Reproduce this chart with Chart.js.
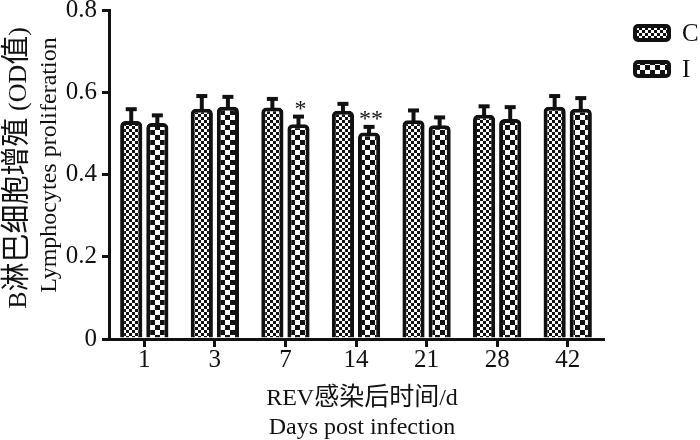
<!DOCTYPE html>
<html>
<head>
<meta charset="utf-8">
<script src="https://cdn.jsdelivr.net/npm/chart.js@4.4.1/dist/chart.umd.min.js"></script>
<style>
  html, body { margin: 0; padding: 0; background: #fff; }
  #wrap { width: 700px; height: 440px; position: relative; }
</style>
</head>
<body>
<div id="wrap"><canvas id="c" width="700" height="440"></canvas></div>
<script>
// ---- data ----
const categories = ['1', '3', '7', '14', '21', '28', '42'];
const seriesNames = ['C', 'I'];
const valuesC = [0.530, 0.560, 0.563, 0.555, 0.532, 0.545, 0.565];
const errorsC = [0.030, 0.032, 0.022, 0.018, 0.025, 0.022, 0.027];
const valuesI = [0.525, 0.565, 0.522, 0.502, 0.520, 0.535, 0.560];
const errorsI = [0.020, 0.025, 0.020, 0.015, 0.020, 0.030, 0.027];
const marksI = ['', '', '*', '**', '', '', ''];
const marksC = ['', '', '', '', '', '', ''];
const yTicks = [0, 0.2, 0.4, 0.6, 0.8];
const yTitle = ['B淋巴细胞增殖 (OD值)', 'Lymphocytes proliferation'];
const xTitle = ['REV感染后时间/d', 'Days post infection'];

// ---- styles ----
const LATIN = "'Liberation Serif', serif";
const CJK = "'Noto Sans CJK SC', sans-serif";
const INK = '#111';

function checker(sq) {
  const c = document.createElement('canvas');
  c.width = sq * 2; c.height = sq * 2;
  const g = c.getContext('2d');
  g.fillStyle = '#fff'; g.fillRect(0, 0, sq * 2, sq * 2);
  g.fillStyle = INK;
  g.fillRect(0, 0, sq, sq);
  g.fillRect(sq, sq, sq, sq);
  return g.createPattern(c, 'repeat');
}
const patC = checker(3);
const patI = checker(5);

const errs = [errorsC, errorsI];
const marks = [marksC, marksI];

function runsOf(text) {
  const runs = [];
  for (const ch of text) {
    const isC = /[\u3000-\u9fff\uff00-\uffef]/.test(ch);
    if (runs.length && runs[runs.length - 1].cjk === isC) runs[runs.length - 1].t += ch;
    else runs.push({ t: ch, cjk: isC });
  }
  return runs;
}
function drawMixed(ctx, text, cx, cy, rot, latinSize, cjkSize) {
  const runs = runsOf(text);
  ctx.save();
  ctx.translate(cx, cy);
  ctx.rotate(rot);
  ctx.textBaseline = 'alphabetic';
  ctx.textAlign = 'left';
  let total = 0;
  runs.forEach(r => {
    ctx.font = r.cjk ? cjkSize + 'px ' + CJK : latinSize + 'px ' + LATIN;
    r.w = ctx.measureText(r.t).width;
    total += r.w;
  });
  let x = -total / 2;
  runs.forEach(r => {
    ctx.font = r.cjk ? cjkSize + 'px ' + CJK : latinSize + 'px ' + LATIN;
    ctx.fillText(r.t, x, latinSize * 0.33);
    x += r.w;
  });
  ctx.restore();
}

const titlesPlugin = {
  id: 'axisTitles',
  afterDraw(chart) {
    const ctx = chart.ctx;
    ctx.save();
    ctx.fillStyle = INK;
    drawMixed(ctx, yTitle[0], 17, 168, -Math.PI / 2, 26, 29);
    drawMixed(ctx, yTitle[1], 48, 165, -Math.PI / 2, 24, 24);
    drawMixed(ctx, xTitle[0], 362, 397, 0, 24, 25);
    drawMixed(ctx, xTitle[1], 362, 426, 0, 24, 25);
    ctx.restore();
  }
};

const errorBarPlugin = {
  id: 'errorBars',
  afterDatasetsDraw(chart) {
    const ctx = chart.ctx;
    const y = chart.scales.y;
    ctx.save();
    ctx.fillStyle = INK;
    chart.data.datasets.forEach((ds, di) => {
      const meta = chart.getDatasetMeta(di);
      meta.data.forEach((el, i) => {
        const v = ds.data[i];
        const top = y.getPixelForValue(v + errs[di][i]);
        const base = el.y;
        ctx.fillRect(el.x - 2, top, 4, base - top + 2);
        ctx.fillRect(el.x - 5.5, top - 1.5, 11, 4);
        const m = marks[di][i];
        if (m) {
          ctx.font = '24px ' + LATIN;
          ctx.textAlign = 'center';
          ctx.textBaseline = 'alphabetic';
          ctx.fillText(m, el.x + 2, top);
        }
      });
    });
    ctx.restore();
  }
};

function roundRect(ctx, x, y, w, h, r) {
  ctx.beginPath();
  ctx.moveTo(x + r, y);
  ctx.lineTo(x + w - r, y);
  ctx.arcTo(x + w, y, x + w, y + r, r);
  ctx.lineTo(x + w, y + h - r);
  ctx.arcTo(x + w, y + h, x + w - r, y + h, r);
  ctx.lineTo(x + r, y + h);
  ctx.arcTo(x, y + h, x, y + h - r, r);
  ctx.lineTo(x, y + r);
  ctx.arcTo(x, y, x + r, y, r);
  ctx.closePath();
}

const legendPlugin = {
  id: 'customLegend',
  afterDraw(chart) {
    const ctx = chart.ctx;
    ctx.save();
    chart.data.datasets.forEach((ds, i) => {
      const bx = chart.chartArea.right + 30, by = 24 + i * 36, bw = 38, bh = 18;
      roundRect(ctx, bx, by, bw, bh, 5);
      ctx.fillStyle = INK; ctx.fill();
      roundRect(ctx, bx + 4, by + 4, bw - 8, bh - 8, 1);
      ctx.fillStyle = ds.backgroundColor; ctx.fill();
      ctx.fillStyle = INK;
      ctx.font = '25px ' + LATIN;
      ctx.textAlign = 'left';
      ctx.textBaseline = 'middle';
      ctx.fillText(ds.label, bx + bw + 11, by + bh / 2 + 1);
    });
    ctx.restore();
  }
};

new Chart(document.getElementById('c'), {
  type: 'bar',
  data: {
    labels: categories,
    datasets: [
      { label: seriesNames[0], data: valuesC, backgroundColor: patC, borderColor: INK, borderWidth: 4,
        borderRadius: 5, borderSkipped: 'start', categoryPercentage: 0.74, barPercentage: 0.85 },
      { label: seriesNames[1], data: valuesI, backgroundColor: patI, borderColor: INK, borderWidth: 4,
        borderRadius: 5, borderSkipped: 'start', categoryPercentage: 0.74, barPercentage: 0.85 }
    ]
  },
  options: {
    responsive: false,
    animation: false,
    devicePixelRatio: 1,
    layout: { padding: { top: 10, right: 97, bottom: 0, left: 0 } },
    plugins: { legend: { display: false }, tooltip: { enabled: false } },
    scales: {
      x: {
        type: 'category',
        offset: true,
        grid: { display: true, drawOnChartArea: false, drawTicks: true, tickLength: 8, offset: false, color: INK, lineWidth: 3 },
        border: { display: true, color: INK, width: 3 },
        ticks: { color: INK, font: { family: LATIN, size: 25, lineHeight: 1 }, padding: 1 },
        title: { display: false },
        afterFit(s) { s.height = 101; s.paddingLeft = 0; s.paddingRight = 0; }
      },
      y: {
        min: 0, max: 0.8,
        afterBuildTicks(s) { s.ticks = yTicks.map(v => ({ value: v })); },
        grid: { display: true, drawOnChartArea: false, drawTicks: true, tickLength: 7, color: INK, lineWidth: 3 },
        border: { display: true, color: INK, width: 3 },
        ticks: { color: INK, font: { family: LATIN, size: 25, lineHeight: 1.1 }, padding: 5,
          callback: v => String(Math.round(v * 10) / 10) },
        title: { display: false },
        afterFit(s) { s.width = 109; s.paddingTop = 0; s.paddingBottom = 0; }
      }
    }
  },
  plugins: [errorBarPlugin, legendPlugin, titlesPlugin]
});
</script>
</body>
</html>
